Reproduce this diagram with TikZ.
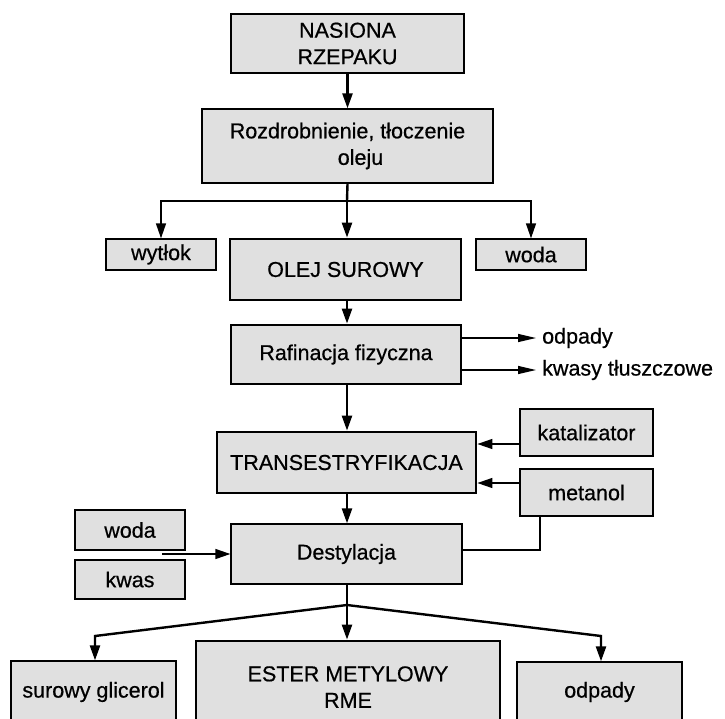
\documentclass[tikz,border=0pt]{standalone}
\usepackage{fontspec}
\setmainfont{Liberation Sans}[FakeBold=0.6]
\usetikzlibrary{arrows.meta}
\definecolor{boxgray}{RGB}{224,224,224}
\tikzset{
  x=1pt, y=-1pt,
  every node/.style={font=\fontsize{21.5}{26.5}\selectfont, inner sep=0pt, align=center},
  boxbase/.style={draw=black, fill=boxgray},
  thinbox/.style={boxbase, line width=1.3pt},
  thickbox/.style={boxbase, line width=2.8pt},
  mainflow/.style={line width=2.4pt, -{Triangle[length=15pt,width=10pt]}},
  mainline/.style={line width=2.4pt},
  sideflow/.style={line width=1.3pt, -{Triangle[length=15pt,width=10pt]}},
  sideline/.style={line width=1.3pt},
  outflow/.style={line width=1.3pt, -{Triangle[length=18pt,width=8pt]}},
  plain/.style={inner sep=2pt}
}
\begin{document}
\begin{tikzpicture}
\useasboundingbox (0,0) rectangle (725,718);
\clip (0,0) rectangle (725,718);
\fill[white] (0,0) rectangle (725,718);

\node[thickbox, minimum width=233pt, minimum height=59pt] (nas) at (347.5,43.5) {NASIONA\\RZEPAKU};
\node[thinbox, minimum width=291pt, minimum height=74pt] (roz) at (347.5,146) {Rozdrobnienie, tłoczenie\\\hspace*{26pt}oleju};
\node[thinbox, minimum width=110pt, minimum height=31pt] (wyt) at (161,254.5) {wytłok};
\node[thickbox, minimum width=231pt, minimum height=61pt] (olej) at (345.5,269.5) {OLEJ SUROWY};
\node[thinbox, minimum width=110pt, minimum height=31pt] (wodaa) at (531,254.5) {woda};
\node[thickbox, minimum width=230pt, minimum height=59pt] (raf) at (346,354.5) {Rafinacja fizyczna};
\node[plain, anchor=west] (odpa) at (540,338) {odpady};
\node[plain, anchor=west] (kwt) at (540,370) {kwasy tłuszczowe};
\node[thickbox, minimum width=259pt, minimum height=61pt] (trans) at (346.5,462.5) {TRANSESTRYFIKACJA};
\node[thinbox, minimum width=133pt, minimum height=47pt] (kat) at (586.5,432.5) {katalizator};
\node[thinbox, minimum width=133pt, minimum height=47pt] (met) at (586.5,492.5) {metanol};
\node[thinbox, minimum width=110pt, minimum height=40pt] (wodab) at (130,530) {woda};
\node[thinbox, minimum width=110pt, minimum height=39pt] (kwas) at (130,579.5) {kwas};
\node[thinbox, minimum width=231pt, minimum height=60pt] (dest) at (346.5,554) {Destylacja};
\node[thinbox, minimum width=165pt, minimum height=62pt] (glic) at (93.5,692) {surowy glicerol};
\node[thickbox, minimum width=304pt, minimum height=92pt] (ester) at (348,687) {ESTER METYLOWY\\RME};
\node[thinbox, minimum width=165pt, minimum height=60pt] (odpb) at (599.5,692) {odpady};

\coordinate (b1) at (347,201);
\coordinate (lin) at (162,554);
\coordinate (mcorner) at (540,550);
\coordinate (s) at (347,605);
\coordinate (sl) at (95,636);
\coordinate (sr) at (601,636);

\draw[mainflow] (nas.south) -- (roz.north);
\draw[mainline] (roz.south) -- (b1);
\draw[mainflow] (b1) -- (olej.north -| b1);
\draw[sideflow] (b1) -| (wyt.north);
\draw[sideflow] (b1) -| (wodaa.north);
\draw[mainflow] (olej.south -| b1) -- (raf.north -| b1);
\draw[outflow] (raf.east |- odpa) -- ([xshift=-4pt]odpa.west);
\draw[outflow] (raf.east |- kwt) -- ([xshift=-4pt]kwt.west);
\draw[mainflow] (raf.south -| b1) -- (trans.north -| b1);
\draw[sideflow] ([yshift=-11.5pt]kat.west) -- (trans.east |- 0,444);
\draw[sideflow] ([yshift=9.5pt]met.west) -- (trans.east |- 0,483);
\draw[mainflow] (trans.south -| b1) -- (dest.north -| b1);
\draw[sideflow] (lin) -- (dest.west);
\draw[sideline] (dest.east |- mcorner) -- (mcorner) -- (mcorner |- met.south);
\draw[mainline] (dest.south -| s) -- (s);
\draw[mainflow] (s) -- (sl) -- (glic.north -| sl);
\draw[mainflow] (s) -- (ester.north -| s);
\draw[mainflow] (s) -- (sr) -- (odpb.north -| sr);
\end{tikzpicture}
\end{document}
